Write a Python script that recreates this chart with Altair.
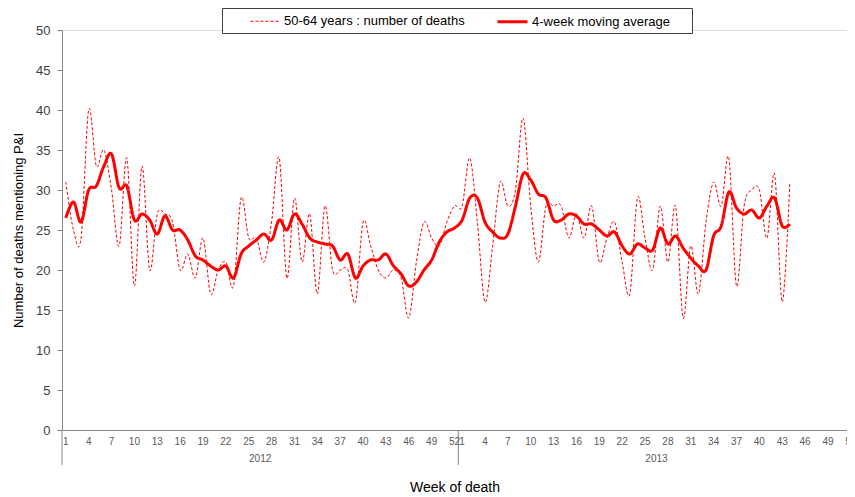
import altair as alt
import pandas as pd

# ---- data ----
years = ["2012", "2013"]
weeks_2012 = list(range(1, 53))
weeks_2013 = list(range(1, 45))

deaths_2012 = [31, 25, 24, 40, 33, 35, 30, 23, 34, 18, 33, 20, 27, 27, 26, 20, 22, 19, 24, 17,
               20, 21, 18, 29, 24, 24, 21, 26, 34, 19, 29, 21, 27, 17, 28, 20, 20, 20, 16, 26,
               23, 20, 19, 20, 19, 14, 21, 26, 24, 23, 26, 28]
deaths_2013 = [28, 34, 26, 16, 23, 31, 28, 30, 39, 28, 21, 28, 28, 28, 24, 27, 24, 28, 21, 24,
               26, 21, 17, 29, 24, 20, 28, 21, 28, 14, 23, 17, 26, 31, 28, 34, 18, 28, 30, 30,
               24, 32, 16, 31]

ma_2012 = [26.5, 28.5, 26, 30, 30.5, 33, 34.5, 30.25, 30.5, 26.25, 27, 26.25, 24.5, 26.75, 25, 25,
           23.75, 21.75, 21.25, 20.5, 20, 20.5, 19, 22, 23, 23.75, 24.5, 23.75, 26.25, 25, 27,
           25.75, 24, 23.5, 23.25, 23, 21.25, 22, 19, 20.5, 21.25, 21.25, 22, 20.5, 19.5, 18,
           18.5, 20, 21.25, 23.5, 24.75, 25.25]
ma_2013 = [26.25, 29, 29, 26, 24.75, 24, 24.5, 28, 32, 31.25, 29.5, 29, 26.25, 26.25, 27, 26.75,
           25.75, 25.75, 25, 24.25, 24.75, 23, 22, 23.25, 22.75, 22.5, 25.25, 23.25, 24.25, 22.75,
           21.5, 20.5, 20, 24.25, 25.5, 29.75, 27.75, 27, 27.5, 26.5, 28, 29, 25.5, 25.75]

tick_weeks = list(range(1, 53, 3))
y_ticks = list(range(0, 51, 5))

series_names = ["50-64 years : number of deaths", "4-week moving average"]

# ---- build tables ----
rows = []
for off, yr, wks, d, m in [(0, years[0], weeks_2012, deaths_2012, ma_2012),
                           (52, years[1], weeks_2013, deaths_2013, ma_2013)]:
    for k, w in enumerate(wks):
        rows.append({"pos": off + w - 0.5, "year": yr, "week": w, "series": series_names[0], "value": d[k]})
        rows.append({"pos": off + w - 0.5, "year": yr, "week": w, "series": series_names[1], "value": m[k]})
df = pd.DataFrame(rows)

ticks_df = pd.DataFrame(
    [{"pos": w - 0.5, "label": str(w)} for w in tick_weeks]
    + [{"pos": 52 + w - 0.5, "label": str(w)} for w in tick_weeks]
)

bounds = pd.DataFrame({"pos": [0, 52]})
year_lab = pd.DataFrame({"pos": [26, 78], "year": years})

FONT = "Liberation Sans"
AX = "#868686"

x_scale = alt.Scale(domain=[0, 103], nice=False, zero=False)
x_axis = alt.Axis(values=[0], labels=False, ticks=False, grid=False, domainColor=AX,
                  title="Week of death", titleFont=FONT, titleFontSize=14,
                  titleFontWeight="normal", titleColor="#000000",
                  titleY=57, titleBaseline="middle")

lines = alt.Chart(df).mark_line(interpolate="cardinal", clip=False).encode(
    x=alt.X("pos:Q", scale=x_scale, axis=x_axis),
    y=alt.Y("value:Q", scale=alt.Scale(domain=[0, 50], nice=False),
            axis=alt.Axis(values=y_ticks, grid=False, domainColor=AX, tickColor=AX,
                          tickSize=5, labelColor="#404040", labelFontSize=13, labelFont=FONT,
                          labelPadding=7, title="Number of deaths mentioning P&I",
                          titleFont=FONT, titleFontSize=13, titleFontWeight="normal",
                          titleColor="#000000", titleX=-44, titleBaseline="middle")),
    color=alt.Color("series:N", scale=alt.Scale(domain=series_names, range=["#FF0000", "#FF0000"]),
                    legend=alt.Legend(title=None, orient="none", legendX=188, legendY=-25,
                                      direction="horizontal", symbolType="stroke",
                                      symbolSize=900, labelFont=FONT, labelFontSize=13,
                                      labelColor="#000000", labelOffset=3, columnPadding=26,
                                      labelLimit=400, padding=0)),
    strokeDash=alt.StrokeDash("series:N", scale=alt.Scale(domain=series_names, range=[[3, 2], [1, 0]]),
                              legend=alt.Legend(title=None)),
    strokeWidth=alt.StrokeWidth("series:N", scale=alt.Scale(domain=series_names, range=[1, 3]),
                                legend=alt.Legend(title=None)),
    detail="series:N",
    order="pos:Q",
)

legend_box = alt.Chart(alt.Data(values=[{}])).mark_rect(
    fill="white", stroke="#404040", strokeWidth=1, clip=False
).encode(x=alt.value(160.5), x2=alt.value(630.5), y=alt.value(-21.5), y2=alt.value(3.5))

seps = alt.Chart(bounds).mark_rule(color=AX, strokeWidth=1, clip=False).encode(
    x=alt.X("pos:Q", scale=x_scale, axis=x_axis), y=alt.value(400), y2=alt.value(435)
)

week_labels = alt.Chart(ticks_df).mark_text(font=FONT, fontSize=10, color="#595959",
                                            baseline="top", clip=False).encode(
    x=alt.X("pos:Q", scale=x_scale, axis=x_axis), y=alt.value(407), text="label:N"
)

ylabels = alt.Chart(year_lab).mark_text(font=FONT, fontSize=10, color="#595959",
                                        baseline="middle", clip=False).encode(
    x=alt.X("pos:Q", scale=x_scale, axis=x_axis), y=alt.value(429), text="year:N"
)

chart = alt.layer(legend_box, lines, seps, week_labels, ylabels).properties(
    width=785, height=400,
    padding={"left": 54, "top": 22, "right": 0, "bottom": 67},
    autosize=alt.AutoSizeParams(type="none"),
).configure_view(stroke=None).configure(background="white")

chart.save("out.html", embed_options={"renderer": "svg", "actions": False})
